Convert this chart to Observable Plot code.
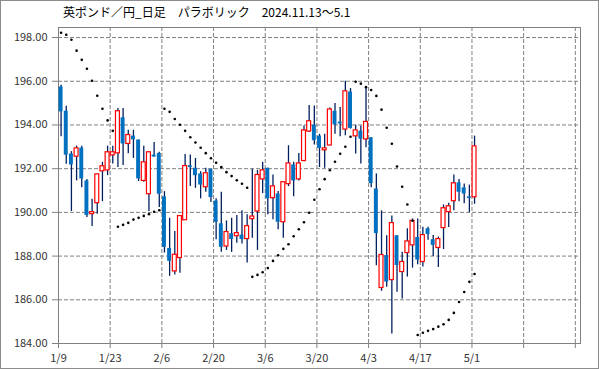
<!DOCTYPE html>
<html><head><meta charset="utf-8">
<script src="https://cdn.jsdelivr.net/npm/d3@7"></script>
<script src="https://cdn.jsdelivr.net/npm/@observablehq/plot@0.6"></script>
<style>
body{margin:0;background:#fff;}
#wrap{position:relative;width:599px;height:369px;overflow:hidden;font-family:"Noto Sans CJK JP",sans-serif;}
#title{position:absolute;left:63px;top:4px;font-size:12px;line-height:16px;color:#000;white-space:pre;}
#border{position:absolute;left:0;top:0;width:597px;height:367px;border:1px solid #8c8c8c;pointer-events:none;}
svg{display:block;}
</style></head><body>
<div id="wrap"><div id="title"></div><div id="border"></div></div>
<script>
const title = "英ポンド／円_日足　パラボリック　2024.11.13～5.1";
const dates = ["1/9","1/10","1/13","1/14","1/15","1/16","1/17","1/20","1/21","1/22","1/23","1/24","1/27","1/28","1/29","1/30","1/31",
"2/3","2/4","2/5","2/6","2/7","2/10","2/11","2/12","2/13","2/14","2/17","2/18","2/19","2/20","2/21","2/24","2/25","2/26","2/27","2/28",
"3/3","3/4","3/5","3/6","3/7","3/10","3/11","3/12","3/13","3/14","3/17","3/18","3/19","3/20","3/21","3/24","3/25","3/26","3/27","3/28","3/31",
"4/1","4/2","4/3","4/4","4/7","4/8","4/9","4/10","4/11","4/14","4/15","4/16","4/17","4/18","4/21","4/22","4/23","4/24","4/25","4/28","4/29","4/30",
"5/1"];
const open = [195.74,194.63,192.67,192.55,192.94,191.44,189.92,190.42,191.88,191.92,
192.61,192.70,194.33,193.13,193.49,193.31,191.44,190.83,192.62,192.70,
190.71,188.35,187.30,187.91,189.64,192.14,192.02,191.76,191.15,191.97,
190.52,189.48,188.44,189.02,188.91,188.96,188.78,189.69,190.04,191.51,
192.02,190.65,190.84,189.55,191.29,192.17,191.51,192.35,193.70,193.99,
193.49,192.84,193.06,194.63,194.13,193.79,195.51,193.48,193.72,193.34,
193.41,191.07,186.54,188.02,186.90,188.93,187.27,188.14,188.49,188.85,
187.73,189.25,188.75,188.37,189.28,190.01,190.51,191.35,191.12,190.71,
190.69];
const high = [195.82,194.86,192.78,193.03,193.03,191.51,190.60,191.74,192.29,193.03,
193.03,194.75,194.75,193.76,193.76,193.31,193.03,192.75,193.20,192.75,
190.95,189.73,189.13,189.83,192.65,192.62,192.47,191.86,192.02,191.97,
190.62,190.92,189.61,189.73,189.86,190.08,189.89,191.97,191.92,192.29,
192.02,191.71,190.95,191.38,193.05,192.29,192.70,193.95,194.89,194.87,
193.57,193.57,194.78,194.98,194.80,196.00,195.67,193.99,193.95,195.70,
193.41,191.76,190.07,188.93,189.84,188.93,188.18,189.25,189.70,189.70,
189.32,189.32,188.94,188.87,190.34,190.42,191.71,191.51,191.30,191.25,
193.49];
const low = [193.46,192.20,190.04,191.44,191.13,189.76,189.35,189.92,190.49,191.68,
192.21,192.05,192.14,192.68,192.47,191.41,191.38,190.04,192.53,190.22,
188.14,187.07,187.14,187.22,189.64,191.18,191.10,190.62,190.92,190.45,
188.75,188.17,188.26,188.17,188.59,188.55,187.68,188.82,188.26,190.86,
189.89,189.66,189.20,188.82,191.18,190.72,191.44,192.32,193.66,193.08,
192.05,192.02,193.05,193.57,193.46,193.51,193.81,192.67,192.21,192.96,
191.13,187.56,186.39,186.57,184.44,186.34,186.04,187.04,187.45,187.60,
187.50,188.73,187.98,187.48,188.30,189.31,190.08,190.49,190.40,189.99,
190.37];
const close = [194.60,192.62,192.17,192.93,191.53,189.86,190.01,191.74,192.11,192.75,
192.75,194.63,193.13,193.54,193.32,191.53,192.29,192.75,192.53,190.83,
188.40,187.76,188.06,189.83,192.12,192.05,191.68,191.25,191.79,190.68,
189.54,188.40,189.10,188.76,189.05,188.76,189.37,189.81,191.71,191.92,
190.62,191.19,189.55,191.38,192.24,191.44,192.24,193.75,194.17,193.28,
192.93,192.93,194.71,194.00,194.05,195.54,193.84,193.75,193.35,194.14,
191.32,189.03,188.05,186.81,189.51,187.57,187.73,188.67,189.61,187.82,
188.96,188.99,188.49,188.78,190.19,190.28,191.33,190.92,190.84,190.63,
193.02];
const sar = [198.22,198.13,197.90,197.40,196.98,196.57,196.02,195.34,194.74,194.21,
193.73,189.34,189.43,189.52,189.67,189.75,189.84,189.92,190.03,190.10,
194.74,194.60,194.27,194.01,193.73,193.44,193.20,192.96,192.71,192.48,
192.27,192.07,191.84,191.66,191.47,191.31,191.13,187.05,187.14,187.26,
187.45,187.78,188.04,188.33,188.54,188.91,189.23,189.55,189.98,190.58,
191.06,191.52,191.93,192.32,192.68,193.00,193.46,195.98,195.89,195.73,
195.60,195.33,194.70,193.87,193.14,192.10,191.17,190.36,189.62,184.39,
184.49,184.58,184.66,184.77,184.88,185.08,185.40,185.90,186.36,186.82,
187.18];
const tickLabels = ["1/9","1/23","2/6","2/20","3/6","3/20","4/3","4/17","5/1","",""];
const yTicks = [184,186,188,190,192,194,196,198];
const slots = 101;

document.getElementById("title").textContent = title;

const data = dates.map((d, i) => ({i, date: d, o: open[i], h: high[i], l: low[i], c: close[i], s: sar[i], up: close[i] >= open[i]}));
const tickPos = tickLabels.map((_, k) => k * 10 - 0.5);
const hw = 0.38;

const chart = Plot.plot({
  width: 599, height: 369,
  marginTop: 27, marginBottom: 26, marginLeft: 58, marginRight: 19,
  style: {fontFamily: '"Noto Sans CJK JP", sans-serif', fontSize: "11px", background: "transparent", overflow: "visible"},
  x: {type: "linear", domain: [-0.5, slots - 0.5], axis: null, label: null},
  y: {domain: [184, 198.46], axis: null, label: null},
  marks: [
    Plot.gridY(yTicks, {stroke: "#808080", strokeOpacity: 1, strokeDasharray: "4,2"}),
    Plot.gridX(tickPos, {stroke: "#808080", strokeOpacity: 1, strokeDasharray: "4,2"}),
    Plot.axisY(yTicks, {label: null, tickFormat: d => d.toFixed(2), tickSize: 6, tickPadding: 5, stroke: "#808080", fill: "#333"}),
    Plot.axisX(tickPos, {label: null, tickFormat: d => tickLabels[Math.round((d + 0.5) / 10)], tickSize: 5, tickPadding: 6, stroke: "#808080", fill: "#333"}),
    Plot.frame({stroke: "#808080"}),
    Plot.ruleX(data, {x: "i", y1: "l", y2: "h", stroke: "#002060", strokeWidth: 1.3}),
    Plot.rect(data.filter(d => !d.up), {x1: d => d.i - hw, x2: d => d.i + hw, y1: "o", y2: "c", fill: "#0070c0"}),
    Plot.rect(data.filter(d => d.up), {x1: d => d.i - hw, x2: d => d.i + hw, y1: "o", y2: "c", fill: "#fff", stroke: "#ff0000", strokeWidth: 1.2}),
    Plot.dot(data, {x: "i", y: "s", r: 1.3, fill: "#000", stroke: "none"})
  ]
});
document.getElementById("wrap").prepend(chart);
</script>
</body></html>
